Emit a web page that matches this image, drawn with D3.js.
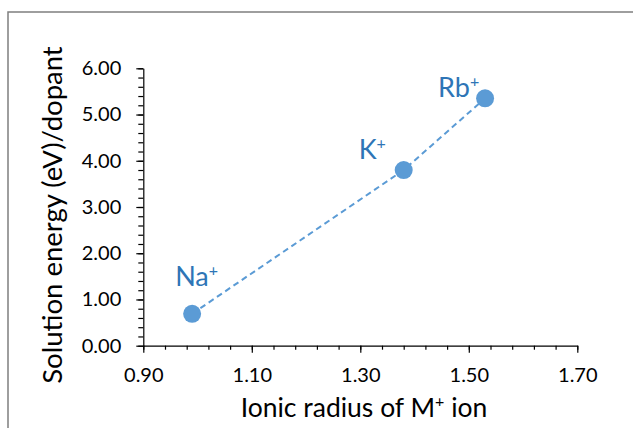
<!DOCTYPE html>
<html>
<head>
<meta charset="utf-8">
<script src="https://cdn.jsdelivr.net/npm/d3@7"></script>
<style>
  body { margin: 0; background: #fff; }
  svg { display: block; }
</style>
</head>
<body>
<div id="chart"></div>
<script>
// data
var ions = ["Na", "K", "Rb"];
var radius = [0.99, 1.38, 1.53];
var energy = [0.69, 3.80, 5.35];
var xTicks = [0.90, 1.10, 1.30, 1.50, 1.70];
var yTicks = [0, 1, 2, 3, 4, 5, 6];

// where each label sits relative to its point
var labelOffsets = [[-17, -28], [-45, -11], [-47, -1]];

var w = 633, h = 428;
var font = "Lato, 'Open Sans', sans-serif";
var blue = "#5B9BD5";
var labelBlue = "#2E75B6";

var svg = d3.select("#chart")
  .append("svg")
  .attr("width", w)
  .attr("height", h);

// outer chart frame, runs off the right and bottom edges
svg.append("rect")
  .attr("x", 8).attr("y", 12)
  .attr("width", 700).attr("height", 500)
  .attr("fill", "none")
  .attr("stroke", "#7f7f7f")
  .attr("stroke-width", 1.5);

var x = d3.scaleLinear().domain([0.9, 1.7]).range([143.3, 577.3]);
var y = d3.scaleLinear().domain([0, 6]).range([345.7, 68.3]);

// minor ticks first
svg.append("g")
  .attr("transform", "translate(0," + y(0) + ")")
  .call(d3.axisBottom(x).tickValues(d3.range(0, 21).map(function(i) { return 0.9 + i * 0.04; }))
    .tickSize(4).tickFormat(""))
  .call(function(g) { g.select(".domain").remove(); });

svg.append("g")
  .attr("transform", "translate(" + x(0.9) + ",0)")
  .call(d3.axisLeft(y).tickValues(d3.range(0, 31).map(function(i) { return i * 0.2; }))
    .tickSize(5).tickFormat(""))
  .call(function(g) { g.select(".domain").remove(); });

var xAxis = svg.append("g")
  .attr("transform", "translate(0," + y(0) + ")")
  .call(d3.axisBottom(x).tickValues(xTicks).tickSize(7).tickSizeOuter(0).tickPadding(15)
    .tickFormat(d3.format(".2f")));

var yAxis = svg.append("g")
  .attr("transform", "translate(" + x(0.9) + ",0)")
  .call(d3.axisLeft(y).tickValues(yTicks).tickSize(7).tickSizeOuter(0).tickPadding(15)
    .tickFormat(d3.format(".2f")));

svg.selectAll(".domain, .tick line").attr("stroke", "#000").attr("stroke-width", 1.2);
[xAxis, yAxis].forEach(function(a) {
  a.selectAll("text")
    .attr("font-family", font)
    .attr("font-size", "20px")
    .attr("fill", "#000");
});

// axis titles
var xt = svg.append("text")
  .attr("x", 364).attr("y", 417)
  .attr("text-anchor", "middle")
  .attr("font-family", font).attr("font-size", "26.5px").attr("fill", "#000")
  .text("Ionic radius of M");
xt.append("tspan").attr("font-size", "16px").attr("dy", -10).text("+");
xt.append("tspan").attr("dy", 10).text(" ion");

svg.append("text")
  .attr("transform", "translate(62,215) rotate(-90)")
  .attr("text-anchor", "middle")
  .attr("font-family", font).attr("font-size", "27.5px").attr("fill", "#000")
  .text("Solution energy (eV)/dopant");

// dashed trend through the points
var pts = radius.map(function(r, i) { return [r, energy[i]]; });
svg.append("path")
  .datum(pts)
  .attr("d", d3.line().x(function(d) { return x(d[0]); }).y(function(d) { return y(d[1]); }))
  .attr("fill", "none")
  .attr("stroke", blue)
  .attr("stroke-width", 2)
  .attr("stroke-dasharray", "6,4");

svg.selectAll("circle")
  .data(pts)
  .enter()
  .append("circle")
  .attr("cx", function(d) { return x(d[0]); })
  .attr("cy", function(d) { return y(d[1]); })
  .attr("r", 9)
  .attr("fill", blue);

var labels = svg.selectAll(".lbl")
  .data(pts)
  .enter()
  .append("text")
  .attr("class", "lbl")
  .attr("x", function(d, i) { return x(d[0]) + labelOffsets[i][0]; })
  .attr("y", function(d, i) { return y(d[1]) + labelOffsets[i][1]; })
  .attr("font-family", font).attr("font-size", "27px").attr("fill", labelBlue)
  .text(function(d, i) { return ions[i]; });
labels.append("tspan").attr("font-size", "16px").attr("dy", -10).text("+");
</script>
</body>
</html>
